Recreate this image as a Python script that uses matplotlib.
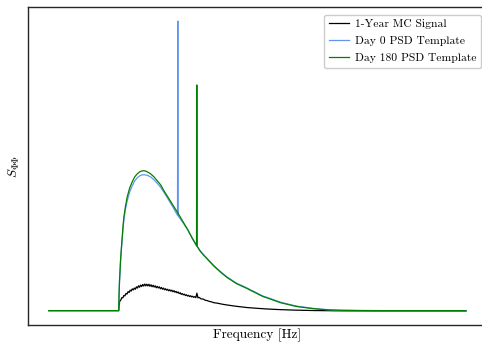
import numpy as np
import matplotlib
matplotlib.use("Agg")
import matplotlib.pyplot as plt

plt.rcParams['font.family'] = 'serif'
plt.rcParams['font.serif'] = ['cmr10']
plt.rcParams['mathtext.fontset'] = 'cm'
plt.rcParams['axes.formatter.use_mathtext'] = True

# PSD templates (arbitrary units), frequency in arbitrary Hz
freq_day0 = [0, 16.75, 16.85, 16.95, 17.05, 17.2, 17.4, 17.6, 17.8, 18.0, 18.4, 18.8,
             19.4, 20.0, 20.6, 21.2, 21.8, 22.4, 23.0, 23.6, 24.4, 25.2, 26.0, 26.8,
             27.6, 28.5, 29.7, 30.85, 30.93, 31.0, 32.1, 33.3, 34.3, 35.4, 36.2, 37.0,
             37.9, 38.8, 39.6, 40.5, 41.6, 42.8, 43.9, 45.0, 46.3, 47.6, 48.5, 49.5,
             50.4, 51.4, 52.5, 53.5, 54.5, 55.5, 56.5, 57.5, 58.5, 59.6, 61.5, 63.4,
             65.5, 67.5, 70.0, 74.6, 80.0, 100]
psd_day0 = [0, 0, 0.17, 0.29, 0.37, 0.49, 0.61, 0.72, 0.82, 0.91, 1.02, 1.10,
            1.19, 1.25, 1.30, 1.33, 1.35, 1.36, 1.36, 1.355, 1.34, 1.31, 1.275, 1.235,
            1.185, 1.125, 1.04, 0.955, 2.90, 0.95, 0.885, 0.81, 0.735, 0.655, 0.605, 0.565,
            0.525, 0.485, 0.45, 0.415, 0.375, 0.335, 0.305, 0.275, 0.25, 0.225, 0.205, 0.185,
            0.165, 0.145, 0.13, 0.115, 0.10, 0.085, 0.074, 0.064, 0.054, 0.044, 0.033, 0.022,
            0.014, 0.008, 0.004, 0.001, 0, 0]

freq_day180 = [0, 16.75, 16.85, 16.95, 17.05, 17.2, 17.4, 17.6, 17.8, 18.0, 18.4, 18.8,
               19.4, 20.0, 20.6, 21.2, 21.8, 22.4, 23.0, 23.6, 24.4, 25.2, 26.0, 26.8,
               27.6, 28.5, 29.7, 30.9, 32.1, 33.3, 34.3, 35.41, 35.48, 35.55, 36.2, 37.0,
               37.9, 38.8, 39.6, 40.5, 41.6, 42.8, 43.9, 45.0, 46.3, 47.6, 48.5, 49.5,
               50.4, 51.4, 52.5, 53.5, 54.5, 55.5, 56.5, 57.5, 58.5, 59.6, 61.5, 63.4,
               65.5, 67.5, 70.0, 74.6, 80.0, 100]
psd_day180 = [0, 0, 0.18, 0.30, 0.38, 0.51, 0.63, 0.74, 0.85, 0.94, 1.05, 1.14,
              1.23, 1.29, 1.34, 1.37, 1.39, 1.40, 1.40, 1.39, 1.37, 1.34, 1.30, 1.26,
              1.20, 1.14, 1.06, 0.98, 0.895, 0.81, 0.73, 0.65, 2.26, 0.645, 0.60, 0.56,
              0.52, 0.48, 0.445, 0.41, 0.37, 0.33, 0.30, 0.27, 0.245, 0.22, 0.20, 0.18,
              0.16, 0.14, 0.125, 0.11, 0.095, 0.08, 0.07, 0.06, 0.05, 0.04, 0.03, 0.02,
              0.012, 0.006, 0.003, 0.001, 0, 0]

# 1-year Monte Carlo signal (noisy)
freq_mc = [0, 16.75, 16.85, 17.0, 17.25, 17.5, 17.75, 18.0, 18.25, 18.5, 18.75,
           19.0, 19.25, 19.5, 19.75, 20.0, 20.25, 20.5, 20.75, 21.0, 21.25, 21.5,
           21.75, 22.0, 22.25, 22.5, 22.75, 23.0, 23.25, 23.5, 23.75, 24.0, 24.25,
           24.5, 24.75, 25.0, 25.25, 25.5, 25.75, 26.0, 26.25, 26.5, 26.75, 27.0,
           27.25, 27.5, 27.75, 28.0, 28.25, 28.5, 28.75, 29.0, 29.25, 29.5, 29.75,
           30.0, 30.25, 30.5, 30.75, 31.0, 31.25, 31.5, 31.75, 32.0, 32.25, 32.5,
           32.75, 33.0, 33.25, 33.5, 33.75, 34.0, 34.25, 34.5, 34.75, 35.0, 35.25,
           35.5, 35.75, 36.0, 36.5, 37.0, 37.5, 38.0, 38.5, 39.0, 39.5, 40.5, 41.5,
           42.5, 43.5, 45.0, 47.5, 50.0, 52.5, 55.5, 59.0, 63.4, 70.0, 80.0, 100]
psd_mc = [0, 0, 0.05, 0.095, 0.105, 0.13, 0.128, 0.152, 0.148, 0.172, 0.166,
          0.19, 0.182, 0.205, 0.196, 0.218, 0.207, 0.226, 0.214, 0.238, 0.226, 0.249,
          0.234, 0.256, 0.241, 0.262, 0.246, 0.266, 0.248, 0.265, 0.247, 0.264, 0.244,
          0.259, 0.239, 0.254, 0.236, 0.249, 0.229, 0.243, 0.227, 0.238, 0.219, 0.232,
          0.214, 0.226, 0.209, 0.219, 0.204, 0.214, 0.198, 0.209, 0.195, 0.205, 0.189,
          0.20, 0.184, 0.193, 0.178, 0.187, 0.171, 0.179, 0.163, 0.171, 0.158, 0.165,
          0.151, 0.159, 0.146, 0.153, 0.141, 0.149, 0.137, 0.144, 0.133, 0.14, 0.13,
          0.175, 0.128, 0.133, 0.118, 0.116, 0.104, 0.10, 0.092, 0.088, 0.08, 0.074, 0.065,
          0.058, 0.052, 0.043, 0.031, 0.023, 0.016, 0.01, 0.005, 0.001, -0.002, -0.003, -0.003]

fig = plt.figure(figsize=(4.82, 3.44), dpi=100)
ax = fig.add_axes([0.058, 0.054, 0.952, 0.927])

ax.plot(freq_mc, psd_mc, color='black', lw=0.9, label='1-Year MC Signal')
ax.plot(freq_day0, psd_day0, color='cornflowerblue', lw=0.9, label='Day 0 PSD Template')
ax.plot(freq_day180, psd_day180, color='green', lw=0.9, label='Day 180 PSD Template')

ax.set_xticks([])
ax.set_yticks([])
ax.set_xlabel('Frequency [Hz]', fontsize=9.6, labelpad=2.5)
ax.set_ylabel(r'$S_{\Phi\Phi}$', fontsize=9.6, labelpad=5)
for s in ax.spines.values():
    s.set_color('0.15')
    s.set_linewidth(1.0)

ax.legend(loc='upper right', bbox_to_anchor=(0.987, 0.975), borderaxespad=0,
          fontsize=8.33, handlelength=1.75, handletextpad=0.5,
          labelspacing=0.6, framealpha=1)

fig.savefig('out.png', dpi=100)
